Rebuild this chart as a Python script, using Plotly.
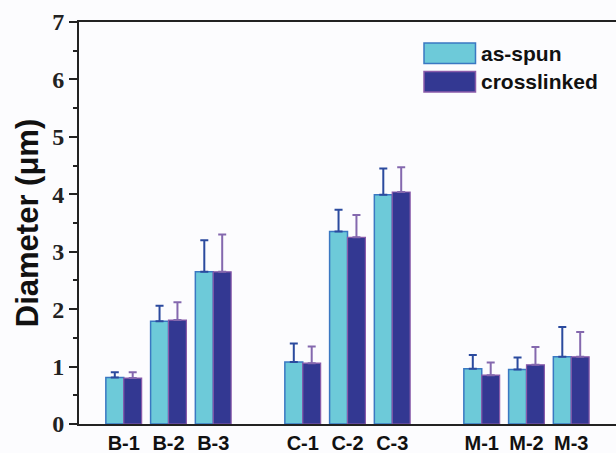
import plotly.graph_objects as go

categories = ["B-1", "B-2", "B-3", "C-1", "C-2", "C-3", "M-1", "M-2", "M-3"]
positions = [0, 1, 2, 4, 5, 6, 8, 9, 10]

as_spun = [0.81, 1.79, 2.65, 1.08, 3.35, 3.99, 0.96, 0.95, 1.17]
as_spun_err = [0.09, 0.27, 0.55, 0.32, 0.38, 0.46, 0.24, 0.21, 0.52]

crosslinked = [0.80, 1.81, 2.65, 1.06, 3.25, 4.04, 0.85, 1.03, 1.17]
crosslinked_err = [0.10, 0.31, 0.65, 0.29, 0.39, 0.43, 0.22, 0.31, 0.43]

y_ticks = [0, 1, 2, 3, 4, 5, 6, 7]

fig = go.Figure()
fig.add_trace(go.Bar(
    x=positions, y=as_spun, name="as-spun",
    marker=dict(color="#6DCAD9", line=dict(color="#3A78C2", width=1.5)),
    error_y=dict(type="data", array=as_spun_err, arrayminus=[0]*len(as_spun),
                 symmetric=False, color="#2B4A9E", thickness=2, width=4),
    showlegend=False,
))
fig.add_trace(go.Bar(
    x=positions, y=crosslinked, name="crosslinked",
    marker=dict(color="#333892", line=dict(color="#8A5BAA", width=1.2)),
    error_y=dict(type="data", array=crosslinked_err, arrayminus=[0]*len(crosslinked),
                 symmetric=False, color="#8468AE", thickness=2, width=4),
    showlegend=False,
))

fig.update_layout(
    width=616, height=453,
    margin=dict(l=79, r=0, t=22, b=29),
    paper_bgcolor="#FCFCFE", plot_bgcolor="#FCFCFE",
    barmode="group", bargap=0.2, bargroupgap=0,
    xaxis=dict(
        range=[-1, 11], tickmode="array", tickvals=positions, ticktext=categories,
        showline=True, linecolor="#222222", linewidth=2, mirror=True,
        ticks="", showgrid=False, zeroline=False, automargin=False,
        tickfont=dict(family="Liberation Sans", size=20, color="#111111", weight="bold"),
    ),
    yaxis=dict(
        range=[0, 7], tickmode="array", tickvals=y_ticks,
        showline=True, linecolor="#222222", linewidth=2, automargin=False,
        ticks="outside", ticklen=8, tickwidth=2, tickcolor="#222222",
        minor=dict(dtick=0.5, ticks="outside", ticklen=4, tickwidth=2, tickcolor="#222222", showgrid=False),
        showgrid=False, zeroline=False,
        tickfont=dict(family="Liberation Serif", size=24, color="#222222", weight="bold"),
        title=dict(text="Diameter (μm)", standoff=4,
                   font=dict(family="Liberation Sans", size=31, color="#111111", weight="bold")),
    ),
)

# custom legend (large swatches, like the original)
legend_items = [("as-spun", "#6DCAD9", "#3A78C2"), ("crosslinked", "#333892", "#8A5BAA")]
for i, (label, fill, edge) in enumerate(legend_items):
    y0 = 1 - (21 + i * 28.5) / 402
    y1 = 1 - (41.5 + i * 28.5) / 402
    fig.add_shape(type="rect", xref="paper", yref="paper",
                  x0=(424 - 79) / 537, x1=(475.5 - 79) / 537, y0=y1, y1=y0,
                  fillcolor=fill, line=dict(color=edge, width=1.5))
    fig.add_annotation(xref="paper", yref="paper", x=(479 - 79) / 537, y=(y0 + y1) / 2,
                       text=label, showarrow=False, xanchor="left", yanchor="middle",
                       font=dict(family="Liberation Sans", size=21, color="#111111", weight="bold"))

fig.write_html("out.html", config={"displayModeBar": False},
               post_script="document.body.style.margin='0';document.body.style.overflow='hidden';")
